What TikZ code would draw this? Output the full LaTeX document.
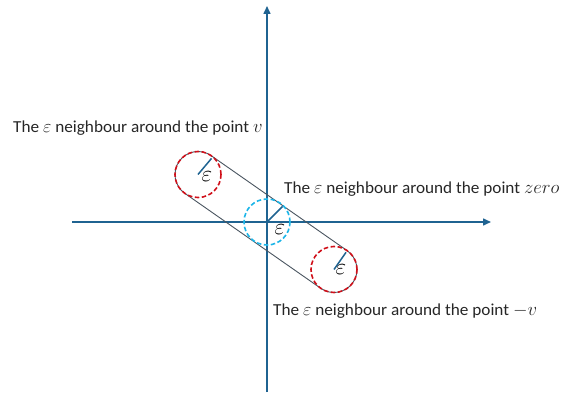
\documentclass[tikz,border=0pt]{standalone}
\usepackage{fontspec}
\usepackage{graphicx}
\setmainfont[FakeStretch=1.025]{Carlito}
\usetikzlibrary{arrows.meta,calc}
\definecolor{axisblue}{HTML}{1F6391}
\definecolor{epsred}{HTML}{D0101A}
\definecolor{epsblue}{HTML}{1CB5E8}
\definecolor{capgray}{HTML}{4A5560}
\newcommand{\meps}{\scalebox{1.05}{$\varepsilon$}}
\newcommand{\mbig}[1]{\scalebox{1.08}{$#1$}}
\tikzset{
  axis/.style={draw=axisblue, line width=1.5pt, -{Triangle[length=8pt,width=7pt]}},
  nbhd/.style={dashed, dash pattern=on 4.5pt off 2.5pt, line width=1.6pt},
  radline/.style={draw=axisblue, line width=1.5pt},
  capsule/.style={draw=capgray, line width=0.9pt},
  lbl/.style={anchor=west, inner sep=0pt, font=\fontsize{16.8}{19}\selectfont, text=black!85},
  epslbl/.style={inner sep=0pt, font=\fontsize{15}{18}\selectfont},
}
\begin{document}
\begin{tikzpicture}[x=1pt,y=1pt]
\useasboundingbox (0,0) rectangle (563,392);
\def\r{23}
% centres
\coordinate (O) at (267,170);
\coordinate (V) at (198,217.5);
\coordinate (W) at (334,122.5);
% axes
\coordinate (xl) at (72,170);
\coordinate (xr) at (491,170);
\coordinate (yb) at (267,0);
\coordinate (yt) at (267,386);
\draw[axis] (xl) -- (xr);
\draw[axis] (yb) -- (yt);
% capsule
\draw[capsule] ($(V)+(55:\r)$) -- ($(W)+(55:\r)$)
  arc[start angle=55, end angle=-125, radius=\r]
  -- ($(V)+(-125:\r)$)
  arc[start angle=235, end angle=55, radius=\r];
% neighbourhoods
\draw[nbhd, draw=epsred] (V) circle[radius=\r];
\draw[nbhd, draw=epsred] (W) circle[radius=\r];
\draw[nbhd, draw=epsblue] (O) circle[radius=\r];
% radius lines
\coordinate (Vr) at ($(V)+(50:21)$);
\coordinate (Wr) at ($(W)+(55:21)$);
\coordinate (Or) at ($(O)+(45:22)$);
\draw[radline] (V) -- (Vr);
\draw[radline] (W) -- (Wr);
\draw[radline] (O) -- (Or);
\node[epslbl] (eV) at (207,215) {\scalebox{1.6}{$\varepsilon$}};
\node[epslbl] (eO) at (280,162) {\scalebox{1.6}{$\varepsilon$}};
\node[epslbl] (eW) at (341,122) {\scalebox{1.6}{$\varepsilon$}};
% labels
\node[lbl] (tV) at (13,264) {The \meps{} neighbour around the point \mbig{v}};
\node[lbl] (tO) at (284,203) {The \meps{} neighbour around the point \mbig{zero}};
\node[lbl] (tW) at (273,80.5) {The \meps{} neighbour around the point \mbig{-v}};
\end{tikzpicture}
\end{document}
